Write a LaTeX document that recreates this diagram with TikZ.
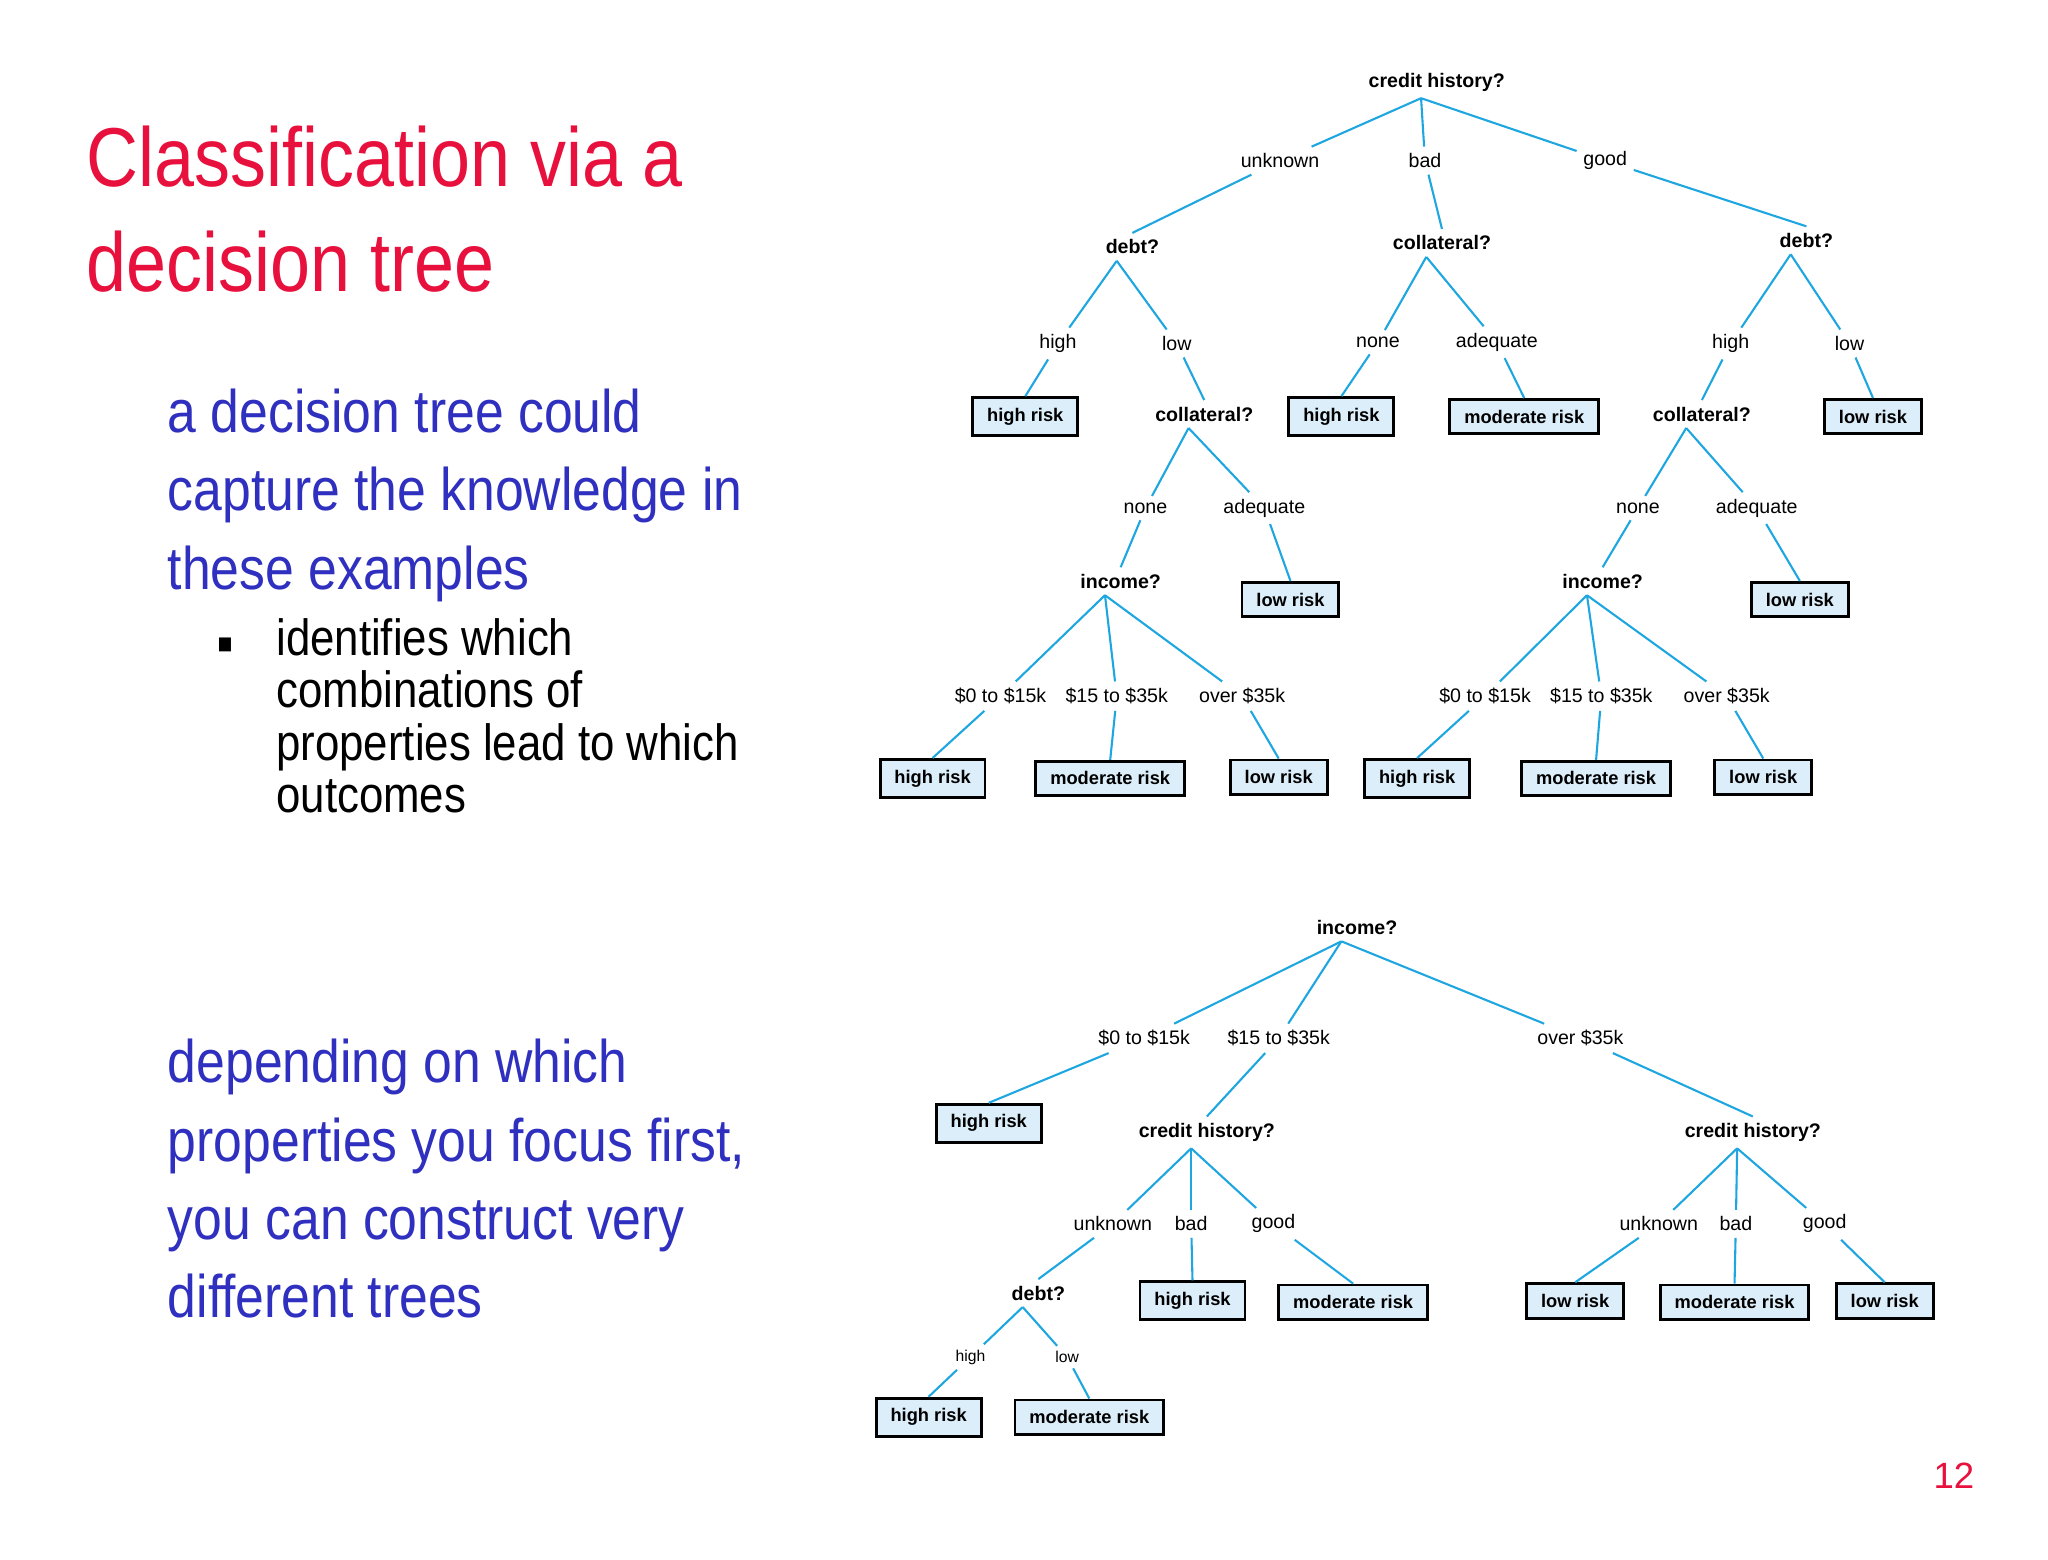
\documentclass[tikz,border=0pt]{standalone}
\usepackage{fontspec}
\setmainfont{Liberation Sans}
\newfontfamily\narrowf[FakeStretch=0.86]{Liberation Sans}
\definecolor{ttl}{HTML}{E8103C}
\definecolor{bl}{HTML}{3030C0}
\definecolor{ln}{HTML}{1DA6E0}
\definecolor{bx}{HTML}{DCEEFA}
\begin{document}
\begin{tikzpicture}[x=1pt,y=-1pt,
 q/.style={font=\fontsize{15}{15}\selectfont\bfseries,inner sep=5pt},
 lb/.style={font=\fontsize{15}{15}\selectfont,inner sep=5pt},
 sl/.style={font=\fontsize{12}{12}\selectfont,inner sep=4pt},
 leaf/.style={draw=black,line width=2.2pt,fill=bx,font=\fontsize{14}{14}\selectfont\bfseries,inner xsep=11pt,inner ysep=8pt},
 e/.style={draw=ln,line width=1.6pt},
 tt/.style={anchor=base west,text=ttl,font=\narrowf\fontsize{64}{64}\selectfont},
 bt/.style={anchor=base west,text=bl,font=\narrowf\fontsize{46}{46}\selectfont},
 kt/.style={anchor=base west,font=\narrowf\fontsize{39}{39}\selectfont}]
\useasboundingbox (0,0) rectangle (1568,1194);
\fill[white] (0,0) rectangle (1568,1194);
% left text
\node[tt] (t1) at (63,143) {Classification via a};
\node[tt] (t2) at (63,223) {decision tree};
\node[bt] (b1) at (125,331) {a decision tree could};
\node[bt] (b2) at (125,391) {capture the knowledge in};
\node[bt] (b3) at (125,451) {these examples};
\node[kt] (k0) at (163,500) {\fontsize{22}{22}\selectfont■};
\node[kt] (k1) at (208,502) {identifies which};
\node[kt] (k2) at (208,542) {combinations of};
\node[kt] (k3) at (208,582) {properties lead to which};
\node[kt] (k4) at (208,622) {outcomes};
\node[bt] (c1) at (125,829) {depending on which};
\node[bt] (c2) at (125,889) {properties you focus first,};
\node[bt] (c3) at (125,949) {you can construct very};
\node[bt] (c4) at (125,1009) {different trees};
\node[text=ttl,font=\fontsize{28}{28}\selectfont] (pg) at (1496,1130) {12};
% tree 1
\node[q] (r) at (1100,63) {credit history?};
\node[lb] (r1) at (980,123) {unknown};
\node[lb] (r2) at (1091,123) {bad};
\node[lb] (r3) at (1229,123) {good};
\node[q] (d1) at (867,189) {debt?};
\node[q] (c0) at (1104,186) {collateral?};
\node[q] (d2) at (1383,184) {debt?};
\node[lb] (d1a) at (810,263) {high};
\node[lb] (d1b) at (901,263) {low};
\node[leaf] (h1) at (785,319) {high risk};
\node[q] (c1n) at (922,317) {collateral?};
\node[lb] (c0a) at (1055,262) {none};
\node[lb] (c0b) at (1146,262) {adequate};
\node[leaf] (h2) at (1027,319) {high risk};
\node[leaf] (m1) at (1167,319) {moderate risk};
\node[lb] (d2a) at (1325,263) {high};
\node[lb] (d2b) at (1416,263) {low};
\node[q] (c2n) at (1303,317) {collateral?};
\node[leaf] (l1) at (1434,319) {low risk};
\node[lb] (c1a) at (877,389) {none};
\node[lb] (c1b) at (968,389) {adequate};
\node[q] (i1) at (858,445) {income?};
\node[leaf] (l2) at (988,459) {low risk};
\node[lb] (c2a) at (1254,389) {none};
\node[lb] (c2b) at (1345,389) {adequate};
\node[q] (i2) at (1227,445) {income?};
\node[leaf] (l3) at (1378,459) {low risk};
\node[lb] (i1a) at (766,533) {\$0 to \$15k};
\node[lb] (i1b) at (855,533) {\$15 to \$35k};
\node[lb] (i1c) at (951,533) {over \$35k};
\node[leaf] (h3) at (714,596) {high risk};
\node[leaf] (m2) at (850,596) {moderate risk};
\node[leaf] (l4) at (979,595) {low risk};
\node[lb] (i2a) at (1137,533) {\$0 to \$15k};
\node[lb] (i2b) at (1226,533) {\$15 to \$35k};
\node[lb] (i2c) at (1322,533) {over \$35k};
\node[leaf] (h4) at (1085,596) {high risk};
\node[leaf] (m3) at (1222,596) {moderate risk};
\node[leaf] (l5) at (1350,595) {low risk};
\foreach \a/\b/\c in {r/r1/d1,r/r2/c0,r/r3/d2,d1/d1a/h1,d1/d1b/c1n,c0/c0a/h2,c0/c0b/m1,d2/d2a/c2n,d2/d2b/l1,c1n/c1a/i1,c1n/c1b/l2,c2n/c2a/i2,c2n/c2b/l3,i1/i1a/h3,i1/i1b/m2,i1/i1c/l4,i2/i2a/h4,i2/i2b/m3,i2/i2c/l5}
 {\path[e] ([xshift=-12pt]\a.south) -- (\b); \path[e] (\b) -- (\c.north);}
% tree 2
\node[q] (s) at (1039,710) {income?};
\node[lb] (s1) at (876,795) {\$0 to \$15k};
\node[lb] (s2) at (979,795) {\$15 to \$35k};
\node[lb] (s3) at (1210,795) {over \$35k};
\node[leaf] (g1) at (757,860) {high risk};
\node[q] (ch1) at (924,867) {credit history?};
\node[q] (ch2) at (1342,867) {credit history?};
\node[lb] (u1) at (852,937) {unknown};
\node[lb] (u2) at (912,937) {bad};
\node[lb] (u3) at (975,937) {good};
\node[q] (dd) at (795,990) {debt?};
\node[leaf] (g2) at (913,996) {high risk};
\node[leaf] (g3) at (1036,997) {moderate risk};
\node[lb] (v1) at (1270,937) {unknown};
\node[lb] (v2) at (1329,937) {bad};
\node[lb] (v3) at (1397,937) {good};
\node[leaf] (g4) at (1206,996) {low risk};
\node[leaf] (g5) at (1328,997) {moderate risk};
\node[leaf] (g6) at (1443,996) {low risk};
\node[sl] (w1) at (743,1039) {high};
\node[sl] (w2) at (817,1039) {low};
\node[leaf] (g7) at (711,1085) {high risk};
\node[leaf] (g8) at (834,1085) {moderate risk};
\foreach \a/\b/\c in {s/s1/g1,s/s2/ch1,s/s3/ch2,ch1/u1/dd,ch1/u2/g2,ch1/u3/g3,ch2/v1/g4,ch2/v2/g5,ch2/v3/g6,dd/w1/g7,dd/w2/g8}
 {\path[e] ([xshift=-12pt]\a.south) -- (\b); \path[e] (\b) -- (\c.north);}
\end{tikzpicture}
\end{document}
